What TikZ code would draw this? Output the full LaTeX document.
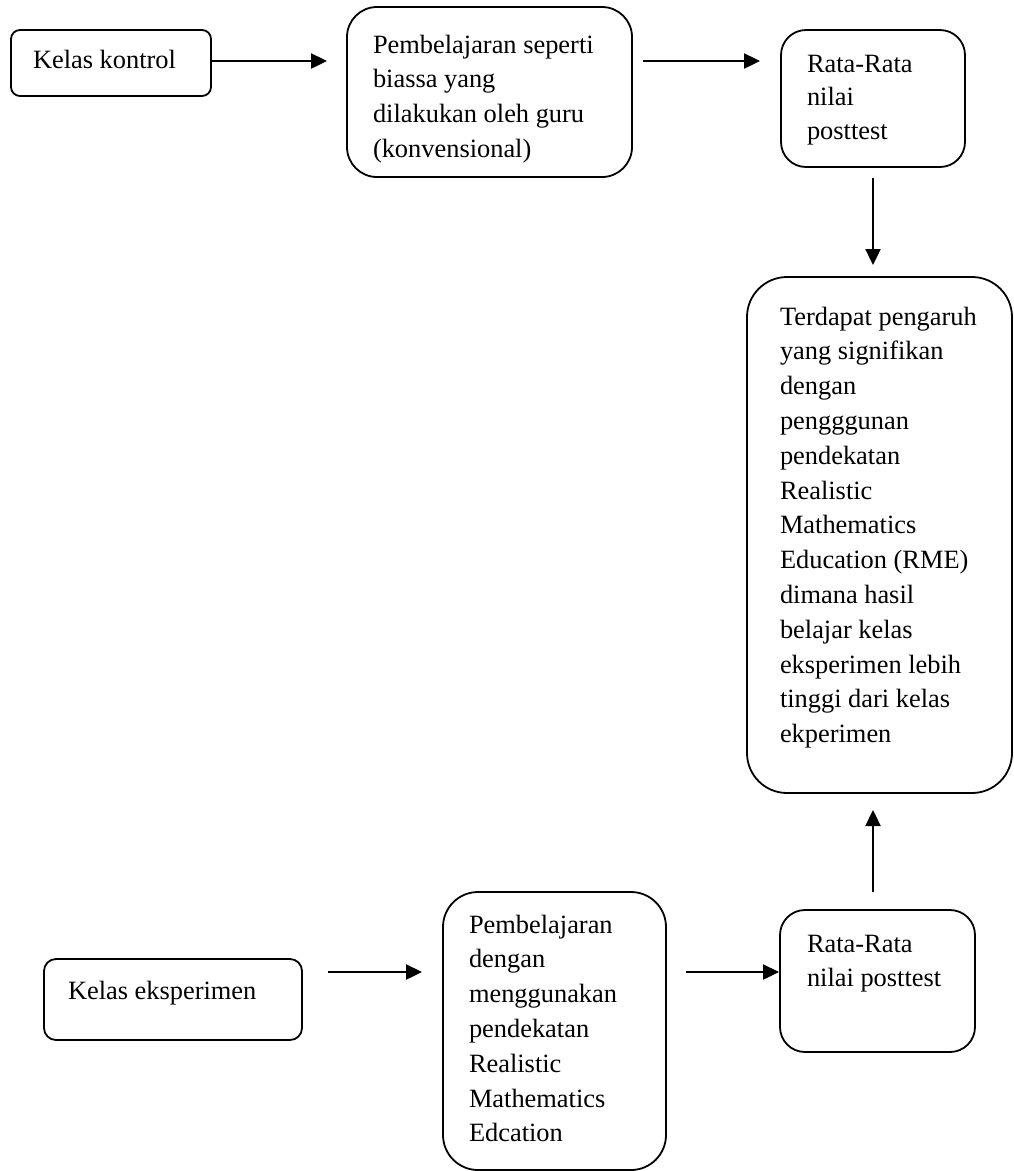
\documentclass[tikz,border=0pt]{standalone}
\usepackage{fontspec}
\setmainfont{Liberation Serif}
\usetikzlibrary{arrows.meta}
\newcommand\firstln{\rule{0pt}{20pt}}
\begin{document}
\begin{tikzpicture}[x=1pt,y=-1pt,
  box/.style={draw, line width=1.8pt, inner sep=0pt, outer sep=0pt, rectangle},
  txt/.style={anchor=north west, inner sep=0pt, outer sep=0pt, align=left,
              font=\fontsize{26.4}{34.8}\selectfont},
  arr/.style={line width=2.4pt, -{Triangle[length=16pt,width=15pt]}}]
\useasboundingbox[fill=white] (0,0) rectangle (1013,1171);

% boxes
\node[box, minimum width=200pt, minimum height=66pt,  rounded corners=9pt]  (A) at (111,63) {};
\node[box, minimum width=285pt, minimum height=170pt, rounded corners=30pt] (B) at (489.5,92) {};
\node[box, minimum width=184pt, minimum height=137pt, rounded corners=25pt] (C) at (873,98.5) {};
\node[box, minimum width=265pt, minimum height=516pt, rounded corners=40pt] (D) at (879.5,535) {};
\node[box, minimum width=258pt, minimum height=81pt,  rounded corners=12pt] (F) at (173,999.5) {};
\node[box, minimum width=223pt, minimum height=278pt, rounded corners=35pt] (G) at (554.5,1031) {};
\node[box, minimum width=195pt, minimum height=142pt, rounded corners=25pt] (H) at (877.5,981) {};

% texts
\node[txt] (tA) at (33,48) {\firstln Kelas kontrol};
\node[txt] (tB) at (373,33) {\firstln Pembelajaran seperti\\biassa yang\\dilakukan oleh guru\\(konvensional)};
\node[txt, font=\fontsize{26.4}{33.5}\selectfont] (tC) at (807,52) {\firstln Rata-Rata\\nilai\\posttest};
\node[txt] (tD) at (780,305) {\firstln Terdapat pengaruh\\yang signifikan\\dengan\\pengggunan\\pendekatan\\Realistic\\Mathematics\\Education (RME)\\dimana hasil\\belajar kelas\\eksperimen lebih\\tinggi dari kelas\\ekperimen};
\node[txt] (tF) at (68,979) {\firstln Kelas eksperimen};
\node[txt] (tG) at (469,913) {\firstln Pembelajaran\\dengan\\menggunakan\\pendekatan\\Realistic\\Mathematics\\Edcation};
\node[txt] (tH) at (807,932) {\firstln Rata-Rata\\nilai posttest};

% helper rows
\coordinate (rowT) at (0,61);
\coordinate (rowB) at (0,972);

% connectors
\draw[arr, shorten >=20pt] (A.east |- rowT) -- (B.west |- rowT);
\draw[arr, shorten <=11pt, shorten >=21pt] (B.east |- rowT) -- (C.west |- rowT);
\draw[arr, shorten <=11pt, shorten >=12pt] (C.south) -- (C.south |- D.north);
\draw[arr, shorten <=18pt, shorten >=17pt] (C.south |- H.north) -- (C.south |- D.south);
\draw[arr, shorten <=26pt, shorten >=21pt] (F.east |- rowB) -- (G.west |- rowB);
\draw[arr, shorten <=20pt, shorten >=1pt] (G.east |- rowB) -- (H.west |- rowB);
\end{tikzpicture}
\end{document}
